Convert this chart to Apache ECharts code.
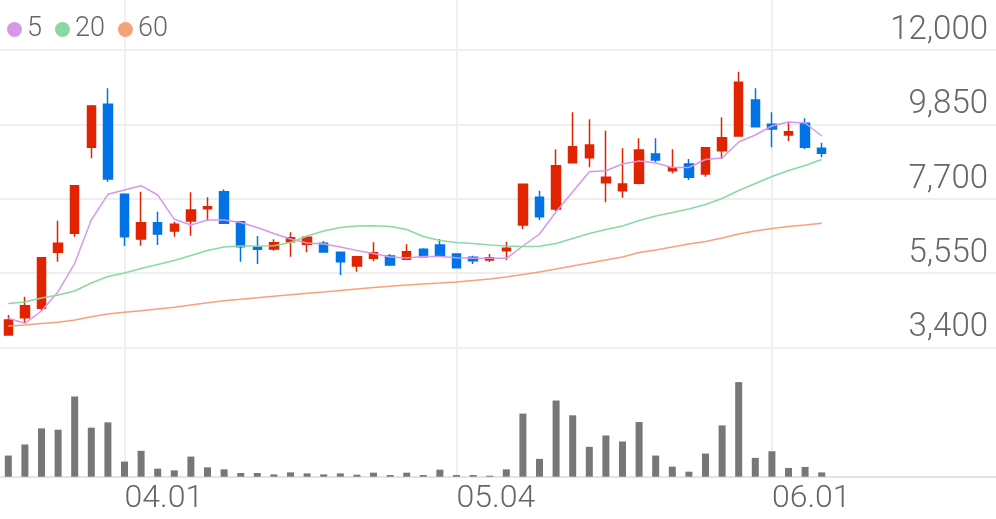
<!DOCTYPE html>
<html><head><meta charset="utf-8">
<script src="https://cdn.jsdelivr.net/npm/echarts@6/dist/echarts.min.js"></script>
<style>html,body{margin:0;padding:0;background:#fff}#c{width:996px;height:519px}</style>
</head><body><div id="c"></div>
<script>
const dates = ['03.23','03.24','03.25','03.26','03.27','03.30','03.31','04.01','04.02','04.03',
  '04.06','04.07','04.08','04.09','04.10','04.13','04.14','04.16','04.17','04.20',
  '04.21','04.22','04.23','04.24','04.27','04.28','04.29','05.04','05.06','05.07',
  '05.08','05.11','05.12','05.13','05.14','05.15','05.18','05.19','05.20','05.21',
  '05.22','05.25','05.26','05.27','05.28','05.29','06.01','06.02','06.03','06.04',
  '06.05','06.08','06.09','06.10','06.11','06.12','06.15','06.16','06.17','06.18'];
const tickLabels = ['04.01','05.04','06.01'];
const priceTicks = [3400, 5550, 7700, 9850, 12000];
const opens  = [3760,4261,4533,6152,6701,9187,10430,7829,6536,7008,6768,7057,7412,7904,7037,6297,6247,6458,6383,6412,6152,5756,5978,6045,5950,6239,6363,6103,6007,5929,6198,6941,7742,7404,8742,8887,8164,7933,8147,8994,8511,8704,8415,9089,9514,10555,9852,9543,9881,9158];
const closes = [4195,4608,5996,6412,8077,10381,8271,6603,7008,6681,6961,7375,7470,6990,6314,6239,6429,6574,6586,6161,5880,6025,6140,5785,6169,6025,6045,5707,5909,5996,6268,8118,7181,8655,9205,9254,8320,8126,9109,8820,8598,8320,9176,9465,11066,9783,9716,9638,9187,9014];
const lows   = [3760,4099,4464,5880,6603,8869,8193,6334,6343,6363,6603,6632,7057,6990,5880,5814,6198,6025,6152,6161,5496,5591,5900,5756,5929,6025,6045,5707,5814,5880,5929,6825,7086,7346,8742,8609,7597,7730,8118,8754,8436,8242,8337,8849,9500,9780,9187,9369,9138,8898];
const highs  = [4340,4868,6000,7065,8080,10410,10893,7850,7904,7326,7037,7886,7742,7973,7037,6623,6528,6730,6632,6479,6152,6030,6441,6103,6383,6268,6536,6110,6055,6103,6458,8130,7933,9129,10199,9997,9667,9158,9447,9447,9129,8849,9180,10054,11373,10893,10199,9927,10026,9320];
const volumes = [210,320,480,467,797,487,540,150,257,80,63,200,93,73,37,37,23,43,33,23,33,20,40,17,40,17,70,17,17,10,73,627,177,757,610,297,410,350,543,210,100,50,230,510,940,187,253,87,97,43];
const ma5  = [4244,4099,4455,5013,5834,7086,7829,7953,8077,7808,7106,6941,7086,7086,7013,6869,6695,6536,6421,6392,6305,6204,6117,6016,5987,6030,6030,5996,5978,5978,5978,6334,6681,7326,7904,8482,8511,8704,8791,8733,8603,8603,8835,8878,9340,9543,9803,9919,9890,9514];
const ma20 = [4672,4715,4831,4918,5033,5264,5452,5554,5684,5799,5915,6059,6204,6305,6334,6334,6343,6435,6623,6768,6869,6912,6921,6898,6811,6609,6493,6435,6406,6363,6334,6320,6328,6406,6551,6695,6811,6912,7071,7201,7302,7404,7534,7707,7938,8141,8343,8517,8661,8835];
const ma60 = [4021,4050,4094,4128,4195,4290,4368,4417,4464,4513,4562,4628,4692,4750,4793,4837,4880,4923,4967,5007,5050,5091,5131,5169,5207,5236,5264,5293,5337,5380,5438,5510,5582,5669,5756,5843,5929,6016,6146,6218,6305,6392,6464,6565,6681,6768,6840,6898,6941,6990];

const ohlc = opens.map((o, i) => [o, closes[i], lows[i], highs[i]]);
const FONT = 'Roboto, "Noto Sans", sans-serif';
const chart = echarts.init(document.getElementById('c'), null, {renderer: 'canvas'});
const maLine = (name, data, color) => ({
  name, type: 'line', data, xAxisIndex: 0, yAxisIndex: 0,
  symbol: 'none', smooth: false, z: 3,
  itemStyle: {color}, lineStyle: {color, width: 1.5}
});
chart.setOption({
  animation: false,
  backgroundColor: '#fff',
  legend: {
    data: ['5', '20', '60'], left: 2, top: 11, icon: 'circle',
    itemWidth: 15, itemHeight: 15, itemGap: 13,
    textStyle: {fontSize: 27, color: '#666', fontFamily: FONT, fontWeight: 300}
  },
  grid: [
    {left: 0, right: 0, top: 50, height: 297.5},
    {left: 0, right: 0, top: 366, height: 110.7},
    {left: 0, right: 0, top: 0, bottom: 42}
  ],
  xAxis: [
    {type: 'category', gridIndex: 0, data: dates, boundaryGap: true, show: false},
    {type: 'category', gridIndex: 1, data: dates, boundaryGap: true,
      axisLine: {show: true, lineStyle: {color: '#e4e4e4', width: 2}},
      axisTick: {show: false}, axisLabel: {show: false}, splitLine: {show: false}},
    {type: 'category', gridIndex: 2, data: dates, boundaryGap: true,
      axisLine: {show: false}, axisTick: {show: false}, splitLine: {show: false},
      axisLabel: {show: true, align: 'left', margin: 6, fontSize: 32, color: '#666',
        fontFamily: FONT, fontWeight: 300,
        interval: (idx, val) => tickLabels.includes(val)}}
  ],
  yAxis: [
    {type: 'value', gridIndex: 0, position: 'right', min: priceTicks[0],
      max: priceTicks[priceTicks.length - 1], interval: priceTicks[1] - priceTicks[0],
      axisLine: {show: false}, axisTick: {show: false},
      splitLine: {show: true, lineStyle: {color: '#efefef', width: 2}},
      axisLabel: {inside: true, margin: 8, fontSize: 33, color: '#666',
        fontFamily: FONT, fontWeight: 300, verticalAlign: 'bottom', padding: [0, 0, 3, 0],
        formatter: v => v.toLocaleString('en-US')}},
    {type: 'value', gridIndex: 1, min: 0, max: 1100, show: false, splitLine: {show: false}},
    {type: 'value', gridIndex: 2, min: 0, max: 1, show: false, splitLine: {show: false}}
  ],
  series: [
    {name: 'guides', type: 'line', xAxisIndex: 2, yAxisIndex: 2, data: [], z: 0,
      silent: true, symbol: 'none',
      markLine: {silent: true, z: 0, symbol: ['none', 'none'], animation: false,
        label: {show: false},
        lineStyle: {color: '#efefef', width: 2, type: 'solid'},
        data: tickLabels.map(d => ({xAxis: d}))}},
    {name: 'price', type: 'candlestick', xAxisIndex: 0, yAxisIndex: 0, data: ohlc,
      barWidth: 9, z: 2,
      itemStyle: {color: '#e12300', color0: '#0073e6', borderColor: '#e12300',
        borderColor0: '#0073e6', borderWidth: 1.5}},
    maLine('5', ma5, '#d699ea'),
    maLine('20', ma20, '#8bd9a2'),
    maLine('60', ma60, '#f5a27b'),
    {name: 'volume', type: 'bar', xAxisIndex: 1, yAxisIndex: 1, data: volumes,
      barWidth: 7, z: 2, itemStyle: {color: '#777'}}
  ]
});
</script></body></html>
